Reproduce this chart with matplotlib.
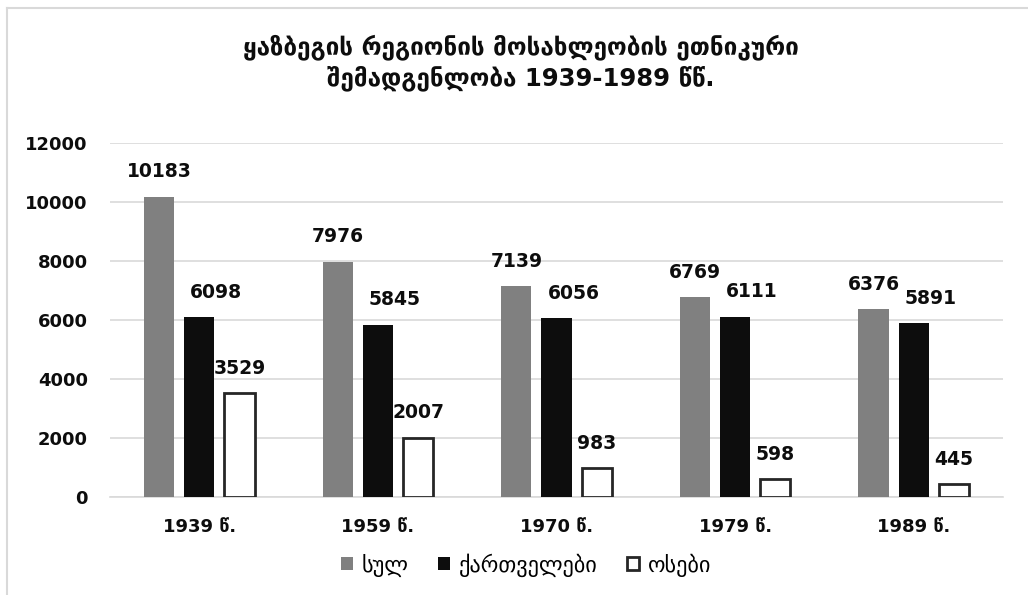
import numpy as np
import matplotlib.pyplot as plt
from matplotlib.lines import Line2D

plt.rcParams['font.family'] = ['DejaVu Sans']

# Population by census year
years = ['1939 წ.', '1959 წ.', '1970 წ.', '1979 წ.', '1989 წ.']
total = [10183, 7976, 7139, 6769, 6376]
georgians = [6098, 5845, 6056, 6111, 5891]
ossetians = [3529, 2007, 983, 598, 445]
series_names = ['სულ', 'ქართველები', 'ოსები']

fig = plt.figure(figsize=(10.28, 5.95), dpi=100)
ax = fig.add_axes([110/1028, 98/595, 893/1028, 354/595])

x = np.arange(len(years))
w = 0.17
off = 0.225
b1 = ax.bar(x - off, total, w, color='#808080', label=series_names[0], zorder=3)
b2 = ax.bar(x, georgians, w, color='#0d0d0d', label=series_names[1], zorder=3)
b3 = ax.bar(x + off, ossetians, w, color='white', edgecolor='#262626',
            linewidth=2, label=series_names[2], zorder=3)

# value labels; the middle series is nudged right so it clears the grey bars' labels
for bars, shift in ((b1, 0), (b2, 0.095), (b3, 0)):
    for rect in bars:
        h = rect.get_height()
        ax.text(rect.get_x() + rect.get_width() / 2 + shift, h + 520, f'{int(h)}',
                ha='center', va='bottom', fontsize=13.5, fontweight='bold',
                color='#0d0d0d')

ax.set_ylim(0, 12000)
ax.set_xlim(-0.5, len(years) - 0.5)
ax.set_yticks(range(0, 12001, 2000))
ax.set_xticks(x)
ax.set_xticklabels(years)
ax.yaxis.grid(True, color='#d9d9d9', linewidth=1.2, zorder=0)
for s in ['top', 'right', 'left']:
    ax.spines[s].set_visible(False)
ax.spines['bottom'].set_color('#d9d9d9')
ax.spines['bottom'].set_linewidth(1.2)
ax.tick_params(axis='both', length=0, labelsize=13, colors='#0d0d0d')
ax.tick_params(axis='y', pad=16)
ax.tick_params(axis='x', pad=15)
for lab in ax.get_xticklabels() + ax.get_yticklabels():
    lab.set_fontweight('bold')

fig.text(521/1028, 1 - 62.5/595, 'ყაზბეგის რეგიონის მოსახლეობის ეთნიკური\nშემადგენლობა 1939-1989 წწ.',
         ha='center', va='center', fontsize=17.5, fontweight='bold',
         color='#0d0d0d', linespacing=1.25)

fig.legend(handles=[b1, b2, b3], labels=series_names, loc='center',
           bbox_to_anchor=(526/1028, 1 - 565/595), ncol=3, frameon=False,
           fontsize=16, handlelength=0.55, handleheight=0.55, handletextpad=0.4,
           columnspacing=1.3)

# thin frame lines along the left and top edges
fig.add_artist(Line2D([7/1028, 7/1028], [0, 1 - 8/595], color='#d9d9d9', lw=1.5,
                      transform=fig.transFigure))
fig.add_artist(Line2D([7/1028, 1], [1 - 8/595, 1 - 8/595], color='#d9d9d9', lw=1.5,
                      transform=fig.transFigure))

fig.savefig('out.png', dpi=100, facecolor='white')
